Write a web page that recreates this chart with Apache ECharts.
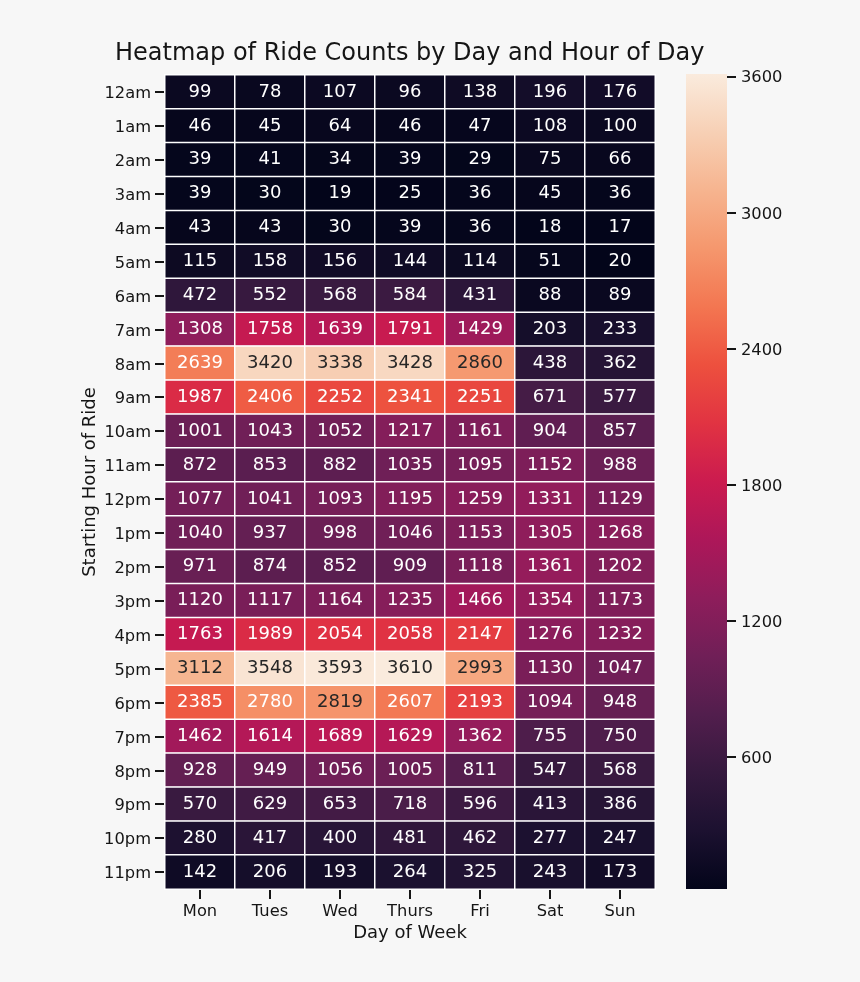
<!DOCTYPE html>
<html>
<head>
<meta charset="utf-8">
<style>html,body{margin:0;padding:0;background:#f7f7f7}#c{width:860px;height:982px}</style>
<script src="https://cdn.jsdelivr.net/npm/echarts@6/dist/echarts.min.js"></script>
</head>
<body>
<div id="c"></div>
<script>
const days = ['Mon','Tues','Wed','Thurs','Fri','Sat','Sun'];
const hours = ['12am','1am','2am','3am','4am','5am','6am','7am','8am','9am','10am','11am','12pm','1pm','2pm','3pm','4pm','5pm','6pm','7pm','8pm','9pm','10pm','11pm'];
const mon = [99,46,39,39,43,115,472,1308,2639,1987,1001,872,1077,1040,971,1120,1763,3112,2385,1462,928,570,280,142];
const tues = [78,45,41,30,43,158,552,1758,3420,2406,1043,853,1041,937,874,1117,1989,3548,2780,1614,949,629,417,206];
const wed = [107,64,34,19,30,156,568,1639,3338,2252,1052,882,1093,998,852,1164,2054,3593,2819,1689,1056,653,400,193];
const thurs = [96,46,39,25,39,144,584,1791,3428,2341,1217,1035,1195,1046,909,1235,2058,3610,2607,1629,1005,718,481,264];
const fri = [138,47,29,36,36,114,431,1429,2860,2251,1161,1095,1259,1153,1118,1466,2147,2993,2193,1362,811,596,462,325];
const sat = [196,108,75,45,18,51,88,203,438,671,904,1152,1331,1305,1361,1354,1276,1130,1094,755,547,413,277,243];
const sun = [176,100,66,36,17,20,89,233,362,577,857,988,1129,1268,1202,1173,1232,1047,948,750,568,386,247,173];
const colorbarTicks = [600,1200,1800,2400,3000,3600];
const rocket = ['#03051a','#1c1130','#35193e','#521e4d','#701f57','#8e1d5b','#ad1759','#cb1b4f','#e13342','#ed503e','#f37651','#f5976d','#f6b48f','#f7d0b5','#faebdd'];

const columns = [mon,tues,wed,thurs,fri,sat,sun];
const cells = [];
columns.forEach((col,x)=>col.forEach((v,y)=>{
  cells.push({value:[x,y,v],label:{color:v>=2800?'#262626':'#ffffff'}});
}));
const barGradient = new echarts.graphic.LinearGradient(0,1,0,0,
  rocket.map((color,i)=>({offset:i/(rocket.length-1),color})));
const font = '"DejaVu Sans"';
const ink = '#151515';
const chart = echarts.init(document.getElementById('c'),null,{renderer:'canvas'});
chart.setOption({
  animation:false,
  backgroundColor:'#f7f7f7',
  textStyle:{fontFamily:font},
  title:{text:'Heatmap of Ride Counts by Day and Hour of Day',left:115,top:42,padding:0,
    textStyle:{fontFamily:font,fontSize:24,fontWeight:'normal',color:ink}},
  grid:[
    {left:165,top:75,width:490,height:814},
    {left:686,top:74,width:41,height:815,show:true,borderWidth:0,backgroundColor:barGradient}
  ],
  xAxis:[
    {type:'category',gridIndex:0,data:days,position:'bottom',name:'Day of Week',nameLocation:'middle',nameGap:35,nameMoveOverlap:false,
      nameTextStyle:{fontFamily:font,fontSize:18,color:ink},
      axisLine:{show:false},axisTick:{show:true,alignWithLabel:true,length:10,lineStyle:{width:2,color:ink}},
      axisLabel:{fontFamily:font,fontSize:16.3,color:ink,margin:15},splitLine:{show:false},splitArea:{show:false}},
    {type:'value',gridIndex:1,show:false,min:0,max:1}
  ],
  yAxis:[
    {type:'category',gridIndex:0,data:hours,inverse:true,name:'Starting Hour of Ride',nameLocation:'middle',nameGap:66,nameMoveOverlap:false,
      nameTextStyle:{fontFamily:font,fontSize:18,color:ink},
      axisLine:{show:false},axisTick:{show:true,alignWithLabel:true,length:10,lineStyle:{width:2,color:ink}},
      axisLabel:{color:ink,margin:14,formatter:v=>`{t|${v}}`,
        rich:{t:{fontFamily:font,fontSize:16.3,color:ink,padding:[4,0,0,0]}}},
      splitLine:{show:false},splitArea:{show:false}},
    {type:'value',gridIndex:1,position:'right',min:17,max:3610,
      axisLine:{show:false,onZero:false},
      axisTick:{show:true,length:9,lineStyle:{width:2,color:ink},customValues:colorbarTicks},
      axisLabel:{color:ink,margin:14,formatter:v=>`{t|${v}}`,customValues:colorbarTicks,
        rich:{t:{fontFamily:font,fontSize:16.3,color:ink,padding:[4,0,0,0]}}},
      splitLine:{show:false}}
  ],
  visualMap:{type:'continuous',show:false,min:17,max:3610,seriesIndex:0,inRange:{color:rocket}},
  series:[{
    type:'heatmap',xAxisIndex:0,yAxisIndex:0,data:cells,
    itemStyle:{borderColor:'#ffffff',borderWidth:1.5},
    label:{show:true,fontFamily:font,fontSize:18,formatter:p=>String(p.value[2])},
    emphasis:{disabled:true}
  }]
});
</script>
</body>
</html>
